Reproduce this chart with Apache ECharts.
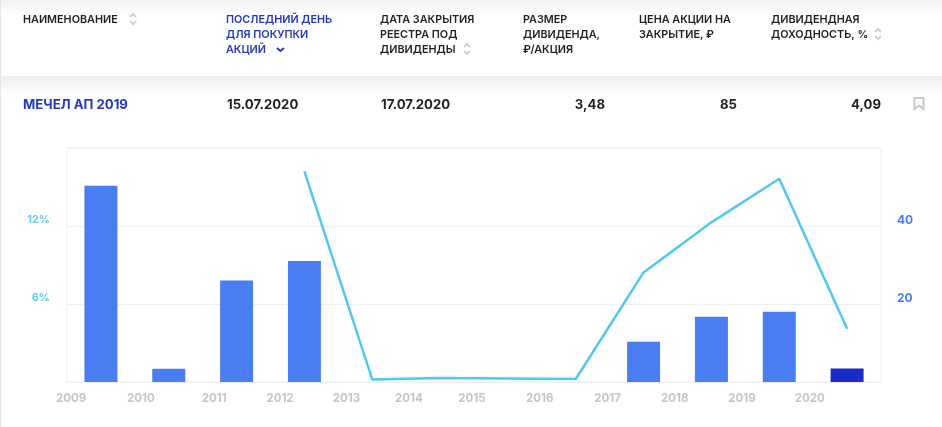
<!DOCTYPE html>
<html>
<head>
<meta charset="utf-8">
<style>
  html, body { margin: 0; padding: 0; background: #fff; }
  #chart { width: 942px; height: 427px; }
</style>
<script src="https://cdn.jsdelivr.net/npm/echarts@6/dist/echarts.min.js"></script>
</head>
<body>
<div id="chart"></div>
<script>
// данные графика
var years = ['2009','2010','2011','2012','2013','2014','2015','2016','2017','2018','2019','2020'];
var dividends = [50.3, 3.4, 26, 31, null, null, null, null, 10.3, 16.7, 18, 3.48];
var yields = [null, null, null, 16.2, 0.2, 0.3, 0.27, 0.23, 8.43, 12.28, 15.64, 4.09];
var leftTicks = [6, 12];
var rightTicks = [20, 40];

// подписи годов в оригинале стоят неровно, поэтому отдельная шкала
var yearLabelAt = [0.06, 1.09, 2.17, 3.14, 4.12, 5.04, 5.97, 6.97, 7.97, 8.96, 9.95, 10.95];

// шапка таблицы
var FONT = 'Inter, "Noto Sans", sans-serif';
var DARK = '#1f2024', BLUE = '#2438b8', GREY = '#cfd1d6';
var headers = [
  { x: 23,  lines: ['НАИМЕНОВАНИЕ'] },
  { x: 226, lines: ['ПОСЛЕДНИЙ ДЕНЬ', 'ДЛЯ ПОКУПКИ', 'АКЦИЙ'], color: BLUE },
  { x: 380, lines: ['ДАТА ЗАКРЫТИЯ', 'РЕЕСТРА ПОД', 'ДИВИДЕНДЫ'] },
  { x: 523, lines: ['РАЗМЕР', 'ДИВИДЕНДА,', '₽/АКЦИЯ'] },
  { x: 639, lines: ['ЦЕНА АКЦИИ НА', 'ЗАКРЫТИЕ, ₽'] },
  { x: 771, lines: ['ДИВИДЕНДНАЯ', 'ДОХОДНОСТЬ, %'] }
];
var cells = [
  { x: 23,  text: 'МЕЧЕЛ АП 2019', color: BLUE, align: 'left' },
  { x: 227, text: '15.07.2020', align: 'left' },
  { x: 381, text: '17.07.2020', align: 'left' },
  { x: 605, text: '3,48', align: 'right' },
  { x: 737, text: '85', align: 'right' },
  { x: 881, text: '4,09', align: 'right' }
];
var sortIcons = [[133, 19], [467, 49], [878, 34]];

var graphics = [];

function band(y, h, from, to) {
  graphics.push({
    type: 'rect', silent: true, z: -1,
    shape: { x: 0, y: y, width: 942, height: h },
    style: { fill: new echarts.graphic.LinearGradient(0, 0, 0, 1, [
      { offset: 0, color: from }, { offset: 1, color: to }
    ]) }
  });
}
band(0, 16, '#f1f1f2', '#ffffff');
band(76, 20, '#eeeeef', '#ffffff');
graphics.push({ type: 'rect', silent: true, z: -1, shape: { x: 0, y: 0, width: 1, height: 427 }, style: { fill: '#e6e6e6' } });

headers.forEach(function (h) {
  h.lines.forEach(function (line, i) {
    graphics.push({
      type: 'text', silent: true, x: h.x, y: 20 + i * 15,
      style: { text: line, fill: h.color || DARK, font: '600 10.8px ' + FONT, textVerticalAlign: 'middle' }
    });
  });
});
cells.forEach(function (c) {
  graphics.push({
    type: 'text', silent: true, x: c.x, y: 105,
    style: { text: c.text, fill: c.color || DARK, font: '700 13.2px ' + FONT, textAlign: c.align, textVerticalAlign: 'middle' }
  });
});
sortIcons.forEach(function (p) {
  graphics.push({
    type: 'polyline', silent: true,
    shape: { points: [[p[0] - 3, p[1] - 2], [p[0], p[1] - 5], [p[0] + 3, p[1] - 2]] },
    style: { stroke: GREY, lineWidth: 2, fill: null }
  });
  graphics.push({
    type: 'polyline', silent: true,
    shape: { points: [[p[0] - 3, p[1] + 2], [p[0], p[1] + 5], [p[0] + 3, p[1] + 2]] },
    style: { stroke: GREY, lineWidth: 2, fill: null }
  });
});
// стрелка активной сортировки
graphics.push({
  type: 'polyline', silent: true,
  shape: { points: [[277, 48], [280.5, 51], [284, 48]] },
  style: { stroke: BLUE, lineWidth: 2, fill: null }
});
// закладка
graphics.push({
  type: 'polygon', silent: true,
  shape: { points: [[914.5, 98], [923.5, 98], [923.5, 109], [919, 105.5], [914.5, 109]] },
  style: { stroke: '#c6c8cc', lineWidth: 2, fill: '#fff' }
});

var myChart = echarts.init(document.getElementById('chart'));

var option = {
  animation: false,
  backgroundColor: '#fff',
  graphic: graphics,
  grid: { left: 67, top: 148, width: 814, height: 234, show: true, borderColor: '#eeeff1', borderWidth: 1 },
  xAxis: [
    {
      type: 'category',
      data: years,
      axisLine: { show: false },
      axisTick: { show: false },
      axisLabel: { show: false },
      splitLine: { show: false }
    },
    {
      type: 'value',
      position: 'bottom',
      min: 0,
      max: 12,
      axisLine: { show: false },
      axisTick: { show: false },
      splitLine: { show: false },
      axisLabel: {
        customValues: yearLabelAt,
        margin: 11,
        color: '#c4c5c9',
        fontFamily: FONT,
        fontWeight: 700,
        fontSize: 11.5,
        formatter: function (v) { return years[yearLabelAt.indexOf(v)]; }
      }
    }
  ],
  yAxis: [
    {
      type: 'value',
      min: 0,
      max: 18,
      interval: 6,
      axisLine: { show: false },
      axisTick: { show: false },
      splitLine: { lineStyle: { color: '#eeeff1', width: 1 } },
      axisLabel: {
        margin: 17,
        color: '#5dcdf4',
        fontFamily: FONT,
        fontWeight: 700,
        fontSize: 11,
        lineHeight: 12,
        verticalAlign: 'bottom',
        formatter: function (v) { return leftTicks.indexOf(v) >= 0 ? v + '%' : ''; }
      }
    },
    {
      type: 'value',
      min: 0,
      max: 60,
      interval: 20,
      axisLine: { show: false },
      axisTick: { show: false },
      splitLine: { show: false },
      axisLabel: {
        margin: 16,
        color: '#4a7df2',
        fontFamily: FONT,
        fontWeight: 700,
        fontSize: 12,
        lineHeight: 12,
        verticalAlign: 'bottom',
        formatter: function (v) { return rightTicks.indexOf(v) >= 0 ? String(v) : ''; }
      }
    }
  ],
  series: [
    {
      name: 'Дивиденд',
      type: 'bar',
      xAxisIndex: 0,
      yAxisIndex: 1,
      barWidth: 33,
      data: dividends.map(function (v, i) {
        return i === dividends.length - 1 ? { value: v, itemStyle: { color: '#1b2bc8' } } : v;
      }),
      itemStyle: { color: '#4a7df2' }
    },
    {
      name: 'Доходность',
      type: 'line',
      xAxisIndex: 0,
      yAxisIndex: 0,
      data: yields,
      showSymbol: false,
      z: 3,
      lineStyle: { color: '#52c8ec', width: 2.5 }
    }
  ]
};

myChart.setOption(option);
</script>
</body>
</html>
